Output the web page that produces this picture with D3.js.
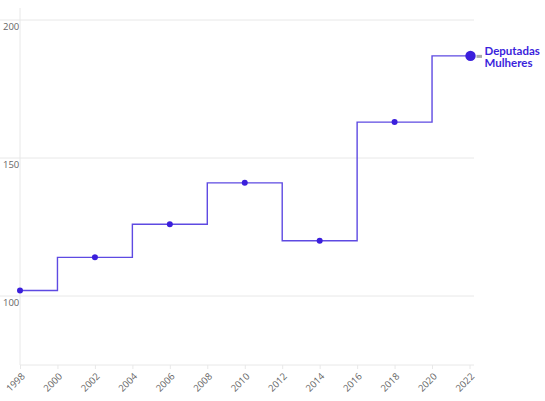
<!DOCTYPE html>
<html>
<head>
<meta charset="utf-8">
<script src="https://cdn.jsdelivr.net/npm/d3@7"></script>
<style>
  body { margin: 0; background: #fff; }
  svg { display: block; font-family: "Open Sans", "Noto Sans", sans-serif; }
</style>
</head>
<body>
<svg id="chart" width="545" height="401"></svg>
<script>
const years = [1998, 2002, 2006, 2010, 2014, 2018, 2022];
const values = [102, 114, 126, 141, 120, 163, 187];
const yTicks = [100, 150, 200];
const xTicks = [1998, 2000, 2002, 2004, 2006, 2008, 2010, 2012, 2014, 2016, 2018, 2020, 2022];
const seriesLabel = ["Deputadas", "Mulheres"];

const svg = d3.select("#chart");
const color = "#3b1fdc";
const x = d3.scaleLinear().domain([1998, 2022]).range([20, 469.5]);
const y = d3.scaleLinear().domain([75, 204.35]).range([365, 8]);

// gridlines
const g = svg.append("g");
g.selectAll("line.grid").data(yTicks).join("line")
  .attr("x1", 0).attr("x2", 474)
  .attr("y1", d => y(d)).attr("y2", d => y(d))
  .attr("stroke", "#e8e8e8").attr("stroke-width", 1);
g.selectAll("text.ylab").data(yTicks).join("text")
  .attr("x", 3).attr("y", d => y(d) + 10)
  .attr("font-size", 9.5).attr("fill", "#666")
  .text(d => d);

// left axis line
svg.append("line").attr("x1", 20).attr("x2", 20).attr("y1", 8).attr("y2", 365)
  .attr("stroke", "#e8e8e8");

// x axis
const xAxis = d3.axisBottom(x).tickValues(xTicks).tickFormat(d3.format("d")).tickSize(4);
const ax = svg.append("g").attr("transform", "translate(0,365)").call(xAxis);
ax.select(".domain").attr("stroke", "#e8e8e8").attr("d", "M20,0H474");
ax.selectAll(".tick line").attr("stroke", "#e8e8e8");
ax.selectAll(".tick text")
  .attr("fill", "#666").attr("font-size", 9.5)
  .attr("font-family", "Open Sans, sans-serif")
  .attr("text-anchor", "end")
  .attr("dy", 0).attr("y", 0)
  .attr("transform", "translate(5,12) rotate(-45)");

// step line
const data = years.map((yr, i) => ({ yr, v: values[i] }));
const line = d3.line().x(d => x(d.yr)).y(d => y(d.v)).curve(d3.curveStep);
svg.append("path").datum(data).attr("d", line)
  .attr("fill", "none").attr("stroke", "#5e4ae2").attr("stroke-width", 1.4);

// dots
svg.selectAll("circle.pt").data(data.slice(0, -1)).join("circle")
  .attr("cx", d => x(d.yr)).attr("cy", d => y(d.v)).attr("r", 3).attr("fill", color);
const last = data[data.length - 1];
svg.append("circle").attr("cx", x(last.yr) + 1).attr("cy", y(last.v)).attr("r", 5.2).attr("fill", color);

// label
svg.append("line").attr("x1", x(last.yr) + 7).attr("x2", x(last.yr) + 12.5)
  .attr("y1", y(last.v) + 0.5).attr("y2", y(last.v) + 0.5)
  .attr("stroke", "#aaa").attr("stroke-width", 3);
svg.append("text").attr("x", x(last.yr) + 15).attr("y", y(last.v) - 1)
  .attr("font-size", 11.5).attr("font-weight", "bold").attr("fill", color)
  .attr("font-family", "Lato, sans-serif")
  .selectAll("tspan").data(seriesLabel).join("tspan")
  .attr("x", x(last.yr) + 15).attr("dy", (d, i) => i === 0 ? 0 : 12.5)
  .text(d => d);
</script>
</body>
</html>
